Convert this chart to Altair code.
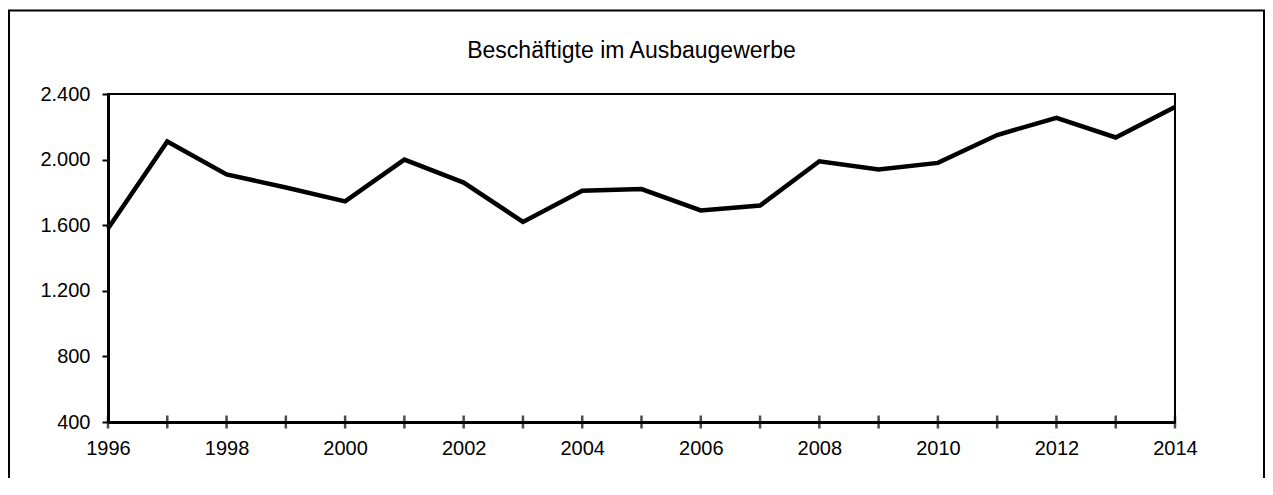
import altair as alt
import pandas as pd

# ---- data ----
years = list(range(1996, 2015))
values = [1580, 2110, 1910, 1830, 1745, 2000, 1860, 1620, 1810, 1820,
          1690, 1720, 1990, 1940, 1980, 2150, 2255, 2135, 2320]
title_text = "Beschäftigte im Ausbaugewerbe"
y_tick_values = [400, 800, 1200, 1600, 2000, 2400]
x_label_values = [1996, 1998, 2000, 2002, 2004, 2006, 2008, 2010, 2012, 2014]
y_min, y_max = 400, 2400

df = pd.DataFrame({"Jahr": years, "Beschaeftigte": values})
tick_df = pd.DataFrame({"Jahr": years, "base": [y_min] * len(years)})
one = pd.DataFrame({"t": [title_text]})

FONT = "Liberation Sans"
W, H = 1067, 328

xscale = alt.Scale(domain=[years[0], years[-1]], nice=False, zero=False)
yscale = alt.Scale(domain=[y_min, y_max], nice=False, zero=False)

line = alt.Chart(df).mark_line(color="black", strokeWidth=4.5, strokeJoin="miter").encode(
    x=alt.X("Jahr:Q", scale=xscale,
            axis=alt.Axis(values=x_label_values, format="d", ticks=False, grid=False,
                          title=None, labelPadding=16, labelFontSize=20, labelFont=FONT,
                          labelColor="black", domainColor="black", domainWidth=3,
                          labelFlush=False, labelOverlap=False)),
    y=alt.Y("Beschaeftigte:Q", scale=yscale,
            axis=alt.Axis(values=y_tick_values, grid=False, title=None,
                          labelExpr="replace(format(datum.value, ',d'), ',', '.')",
                          tickSize=6, tickWidth=2, tickColor="black",
                          labelPadding=12, labelFontSize=20, labelFont=FONT,
                          labelColor="black", domainColor="black", domainWidth=3,
                          labelOverlap=False)),
)

xticks = alt.Chart(tick_df).mark_tick(color="black", thickness=2.5, size=13, orient="vertical").encode(
    x=alt.X("Jahr:Q", scale=xscale),
    y=alt.Y("base:Q", scale=yscale),
)

title = alt.Chart(one).mark_text(font=FONT, fontSize=23, color="black",
                                 baseline="alphabetic", align="center").encode(
    text="t:N",
    x=alt.value(523.5),
    y=alt.value(-35.7),
)

frame = alt.Chart(one).mark_rect(fillOpacity=0, stroke="black", strokeWidth=2).encode(
    x=alt.value(-99),
    x2=alt.value(1156),
    y=alt.value(-83.5),
    y2=alt.value(420),
)

chart = alt.layer(frame, title, line, xticks).properties(
    width=W, height=H,
    background="white",
    autosize=alt.AutoSizeParams(type="none"),
    padding={"left": 100, "top": 86, "right": 90, "bottom": 56},
).configure_view(stroke="black", strokeWidth=2)

chart.save("out.html", embed_options={"renderer": "svg", "actions": False})
